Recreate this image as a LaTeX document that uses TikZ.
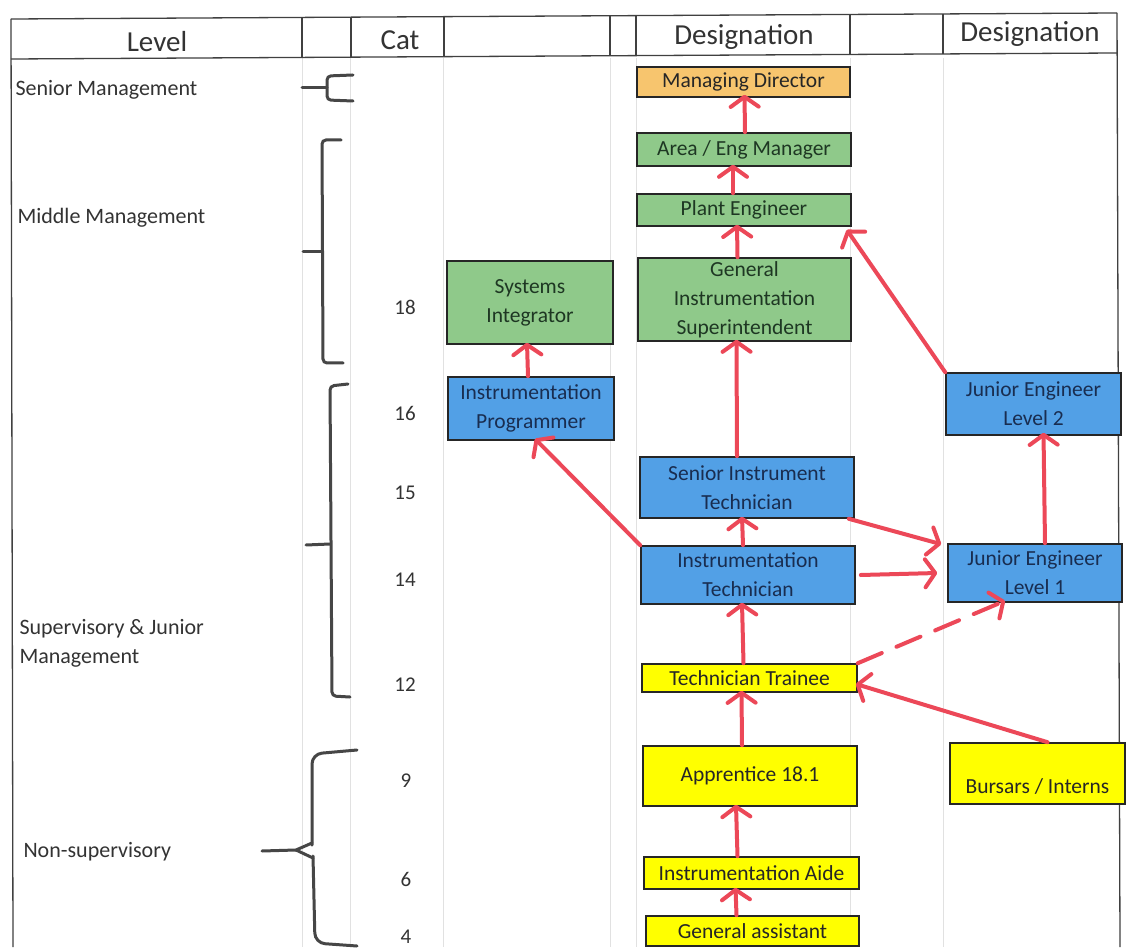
\documentclass[tikz,border=0pt]{standalone}
\usepackage{fontspec}
\setmainfont{Carlito}
\usetikzlibrary{arrows.meta}
\definecolor{mdorange}{RGB}{247,197,110}
\definecolor{mgreen}{RGB}{143,201,138}
\definecolor{mblue}{RGB}{82,160,230}
\definecolor{myellow}{RGB}{255,255,0}
\definecolor{arrowred}{RGB}{236,72,88}
\definecolor{brace}{RGB}{70,70,70}
\definecolor{gridc}{RGB}{225,225,225}
\definecolor{txtgreen}{RGB}{30,55,35}
\definecolor{txtblue}{RGB}{25,45,80}
\tikzset{
  box/.style={draw=black!85, line width=1.6pt, align=center, inner sep=1pt,
    font=\fontsize{21.5}{29}\selectfont},
  orangebox/.style={box, fill=mdorange, text=black!85},
  greenbox/.style={box, fill=mgreen, text=txtgreen},
  bluebox/.style={box, fill=mblue, text=txtblue},
  yellowbox/.style={box, fill=myellow, text=black!85},
  arr/.style={draw=arrowred, line width=4pt, line cap=round,
    -{Straight Barb[length=10pt,width=28pt,line join=round,line cap=round]}},
  bracepath/.style={draw=brace, line width=3pt, rounded corners=4pt, line cap=round},
  hdr/.style={font=\fontsize{29}{32}\selectfont, text=black!80},
  lvl/.style={font=\fontsize{22}{29}\selectfont, text=black!80, anchor=west, align=left},
  catn/.style={font=\fontsize{21}{22}\selectfont, text=black!80},
  tline/.style={draw=black!75, line width=1.3pt},
  gline/.style={draw=gridc, line width=0.9pt}
}
\begin{document}
\begin{tikzpicture}[x=1pt,y=-1pt]
\useasboundingbox[fill=white] (0,0) rectangle (1130,949);
% faint body grid
\foreach \xx in {302,350,443,610,636,850,943}{
  \draw[gline] (\xx,58) -- (\xx,947);
}
% table frame
\draw[tline] (11,19) -- (1117,13);
\draw[tline] (11,59) -- (1117,53);
\draw[tline] (11,19) -- (13,947);
\draw[tline] (1117,13) -- (1120,947);
\foreach \xx/\ya/\yb in {302/18/58, 351/18/58, 444/17/57, 610/16/56, 636/16/56, 850/15/55, 943/14/54}{
  \draw[tline] (\xx,\ya) -- (\xx,\yb);
}
% header texts
\node[hdr] (hLevel) at (157,42) {Level};
\node[hdr] (hCat) at (400,40) {Cat};
\node[hdr] (hDes1) at (744,37) {Designation};
\node[hdr] (hDes2) at (1030,34) {Designation};
% level labels
\node[lvl] (lSenior) at (12,90) {Senior Management};
\node[lvl] (lMiddle) at (14,218) {Middle Management};
\node[lvl] (lSup) at (16,643) {Supervisory \& Junior\\Management};
\node[lvl] (lNon) at (20,852) {Non-supervisory};
% cat numbers
\node[catn] (c18) at (405,307) {18};
\node[catn] (c16) at (405,413) {16};
\node[catn] (c15) at (405,493) {15};
\node[catn] (c14) at (405,580) {14};
\node[catn] (c12) at (405,685) {12};
\node[catn] (c9) at (406,781) {9};
\node[catn] (c6) at (406,879) {6};
\node[catn] (c4) at (406,937) {4};
% braces
\coordinate (bS) at (302,88);
\draw[bracepath] (bS) -- (327,88);
\draw[bracepath] (353,75) -- (327,76) -- (327,100) -- (353,101);
\coordinate (bM) at (303,252);
\draw[bracepath] (bM) -- (322,252);
\draw[bracepath] (341,140) -- (322,140) -- (323,363) -- (343,363);
\coordinate (bJ) at (306,545);
\draw[bracepath, rounded corners=0pt] (bJ) -- (330,544);
\draw[bracepath] (348,384) -- (330,386) -- (332,696) -- (350,697);
\coordinate (bN) at (262,851);
\draw[bracepath, rounded corners=0pt] (bN) -- (296,850) -- (312,843);
\draw[bracepath, rounded corners=0pt] (296,850) -- (313,858);
\draw[bracepath, rounded corners=10pt] (357,750) -- (312,754) -- (312,845);
\draw[bracepath, rounded corners=10pt] (313,856) -- (315,943) -- (357,946);
% boxes
\node[orangebox, minimum width=213pt, minimum height=30pt] (md) at (743.5,82) {Managing Director};
\node[greenbox, minimum width=214pt, minimum height=33pt] (aem) at (744,149.5) {Area / Eng Manager};
\node[greenbox, minimum width=214pt, minimum height=32pt] (pe) at (744,210) {Plant Engineer};
\node[greenbox, minimum width=213pt, minimum height=83pt] (gis) at (744.5,299.5) {General\\Instrumentation\\Superintendent};
\node[greenbox, minimum width=166pt, minimum height=83pt] (si) at (530,302.5) {Systems\\Integrator};
\node[bluebox, minimum width=166pt, minimum height=63pt] (ip) at (531,408.5) {Instrumentation\\Programmer};
\node[bluebox, minimum width=214pt, minimum height=61pt] (sit) at (747,487.5) {Senior Instrument\\Technician};
\node[bluebox, minimum width=214pt, minimum height=58pt] (it) at (748,575) {Instrumentation\\Technician};
\node[bluebox, minimum width=175pt, minimum height=62pt] (je2) at (1033.5,404) {Junior Engineer\\Level 2};
\node[bluebox, minimum width=174pt, minimum height=58pt] (je1) at (1035,573) {Junior Engineer\\Level 1};
\node[yellowbox, minimum width=215pt, minimum height=28pt] (tt) at (749.5,678) {Technician Trainee};
\node[yellowbox, minimum width=214pt, minimum height=60pt] (app) at (750,776) {Apprentice 18.1};
\node[yellowbox, minimum width=175pt, minimum height=61pt] (bi) at (1037.5,773.5) {\mbox{}\\[12pt]Bursars / Interns};
\node[yellowbox, minimum width=215pt, minimum height=32pt] (ia) at (751.5,873) {Instrumentation Aide};
\node[yellowbox, minimum width=213pt, minimum height=30pt] (ga) at (752.5,931) {General assistant};
% arrows
\draw[arr] ([xshift=1pt]aem.north) -- ([xshift=1pt,yshift=3pt]md.south);
\draw[arr] ([xshift=-11pt]pe.north) -- ([xshift=-11pt,yshift=2pt]aem.south);
\draw[arr] ([xshift=-7pt]gis.north) -- ([xshift=-7pt,yshift=2pt]pe.south);
\draw[arr] ([xshift=-10pt]sit.north) -- ([xshift=-8pt,yshift=2pt]gis.south);
\draw[arr] ([xshift=-5pt]it.north) -- ([xshift=-5pt,yshift=2pt]sit.south);
\draw[arr] ([xshift=-6pt]tt.north) -- ([xshift=-6pt,yshift=2pt]it.south);
\draw[arr] ([xshift=-8pt]app.north) -- ([xshift=-8pt,yshift=2pt]tt.south);
\draw[arr] ([xshift=-14pt]ia.north) -- ([xshift=-14pt,yshift=2pt]app.south);
\draw[arr] ([xshift=-16pt]ga.north) -- ([xshift=-16pt,yshift=2pt]ia.south);
\draw[arr] ([xshift=-3pt]ip.north) -- ([xshift=-3pt,yshift=2pt]si.south);
\draw[arr] (it.north west) -- ([xshift=4pt,yshift=2pt]ip.south);
\draw[arr] ([xshift=-6pt]sit.south east) -- ([xshift=-6pt,yshift=-1pt]je1.north west);
\draw[arr] ([xshift=5pt]it.east) -- ([xshift=-10pt]je1.west);
\draw[arr, dashed, dash pattern=on 26pt off 16pt] (tt.north east) -- ([xshift=-30pt,yshift=2pt]je1.south);
\draw[arr] ([xshift=10pt]je1.north) -- ([xshift=10pt,yshift=3pt]je2.south);
\draw[arr] (je2.north west) -- ([xshift=-5pt,yshift=-3pt]pe.south east);
\draw[arr] ([xshift=10pt]bi.north) -- ([xshift=-2pt,yshift=-6pt]tt.east);
\end{tikzpicture}
\end{document}
